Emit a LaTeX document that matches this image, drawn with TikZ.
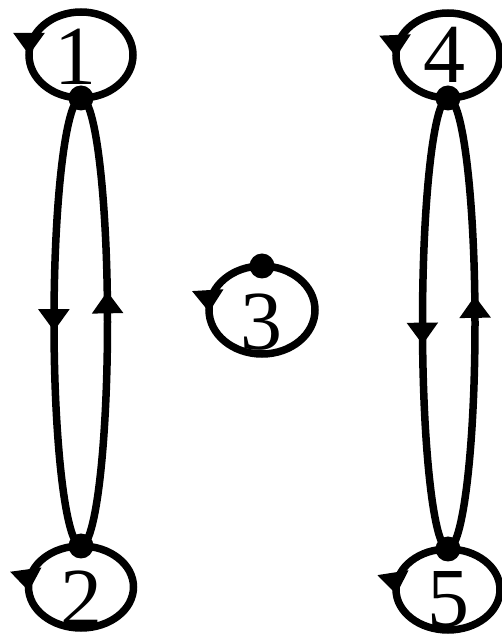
\documentclass[tikz,border=0pt]{standalone}
\usepackage{fontspec}
\setmainfont{Liberation Serif}
\usetikzlibrary{arrows.meta,decorations.markings}
\tikzset{
  edgeline/.style={line width=7.5pt},
  tipmark/.style={postaction={decorate,decoration={markings,mark=at position #1 with {\arrow{Triangle[length=22pt,width=30pt]}}}}},
  dotnode/.style={circle,fill=black,inner sep=0pt,minimum size=25pt},
  numlabel/.style={anchor=base,inner sep=0pt,text depth=0pt,font=\fontsize{84}{84}\selectfont},
}
\begin{document}
\begin{tikzpicture}[x=1pt,y=1pt]
\useasboundingbox (0,0) rectangle (502,638);
\coordinate (v1) at (81,540);
\coordinate (v2) at (81,92);
\coordinate (v3) at (262,372);
\coordinate (v4) at (448,540);
\coordinate (v5) at (448,89);
% labels
\node[numlabel] (l1) at (75,553) {1};
\node[numlabel] (l2) at (81,11) {2};
\node[numlabel] (l3) at (261,288) {3};
\node[numlabel] (l4) at (444,555) {4};
\node[numlabel] (l5) at (448,11) {5};
% loops
\draw[edgeline,tipmark=0.75] (v1) arc[start angle=-90,end angle=270,x radius=52,y radius=43];
\draw[edgeline,tipmark=0.265] (v2) arc[start angle=90,end angle=450,x radius=52.5,y radius=41];
\draw[edgeline,tipmark=0.257] (v3) arc[start angle=90,end angle=450,x radius=53,y radius=44];
\draw[edgeline,tipmark=0.755] (v4) arc[start angle=-90,end angle=270,x radius=52,y radius=42.5];
\draw[edgeline,tipmark=0.267] (v5) arc[start angle=90,end angle=450,x radius=52,y radius=40.5];
% edges 1-2
\draw[edgeline,tipmark=0.52] (v1) arc[start angle=90,end angle=270,x radius=27,y radius=224];
\draw[edgeline,tipmark=0.567] (v2) arc[start angle=-90,end angle=90,x radius=26.5,y radius=224];
% edges 4-5
\draw[edgeline,tipmark=0.546] (v4) arc[start angle=90,end angle=270,x radius=25.5,y radius=225.5];
\draw[edgeline,tipmark=0.56] (v5) arc[start angle=-90,end angle=90,x radius=27,y radius=225.5];
% dots
\node[dotnode] (d1) at (v1) {};
\node[dotnode] (d2) at (v2) {};
\node[dotnode] (d3) at (v3) {};
\node[dotnode] (d4) at (v4) {};
\node[dotnode] (d5) at (v5) {};
\end{tikzpicture}
\end{document}
